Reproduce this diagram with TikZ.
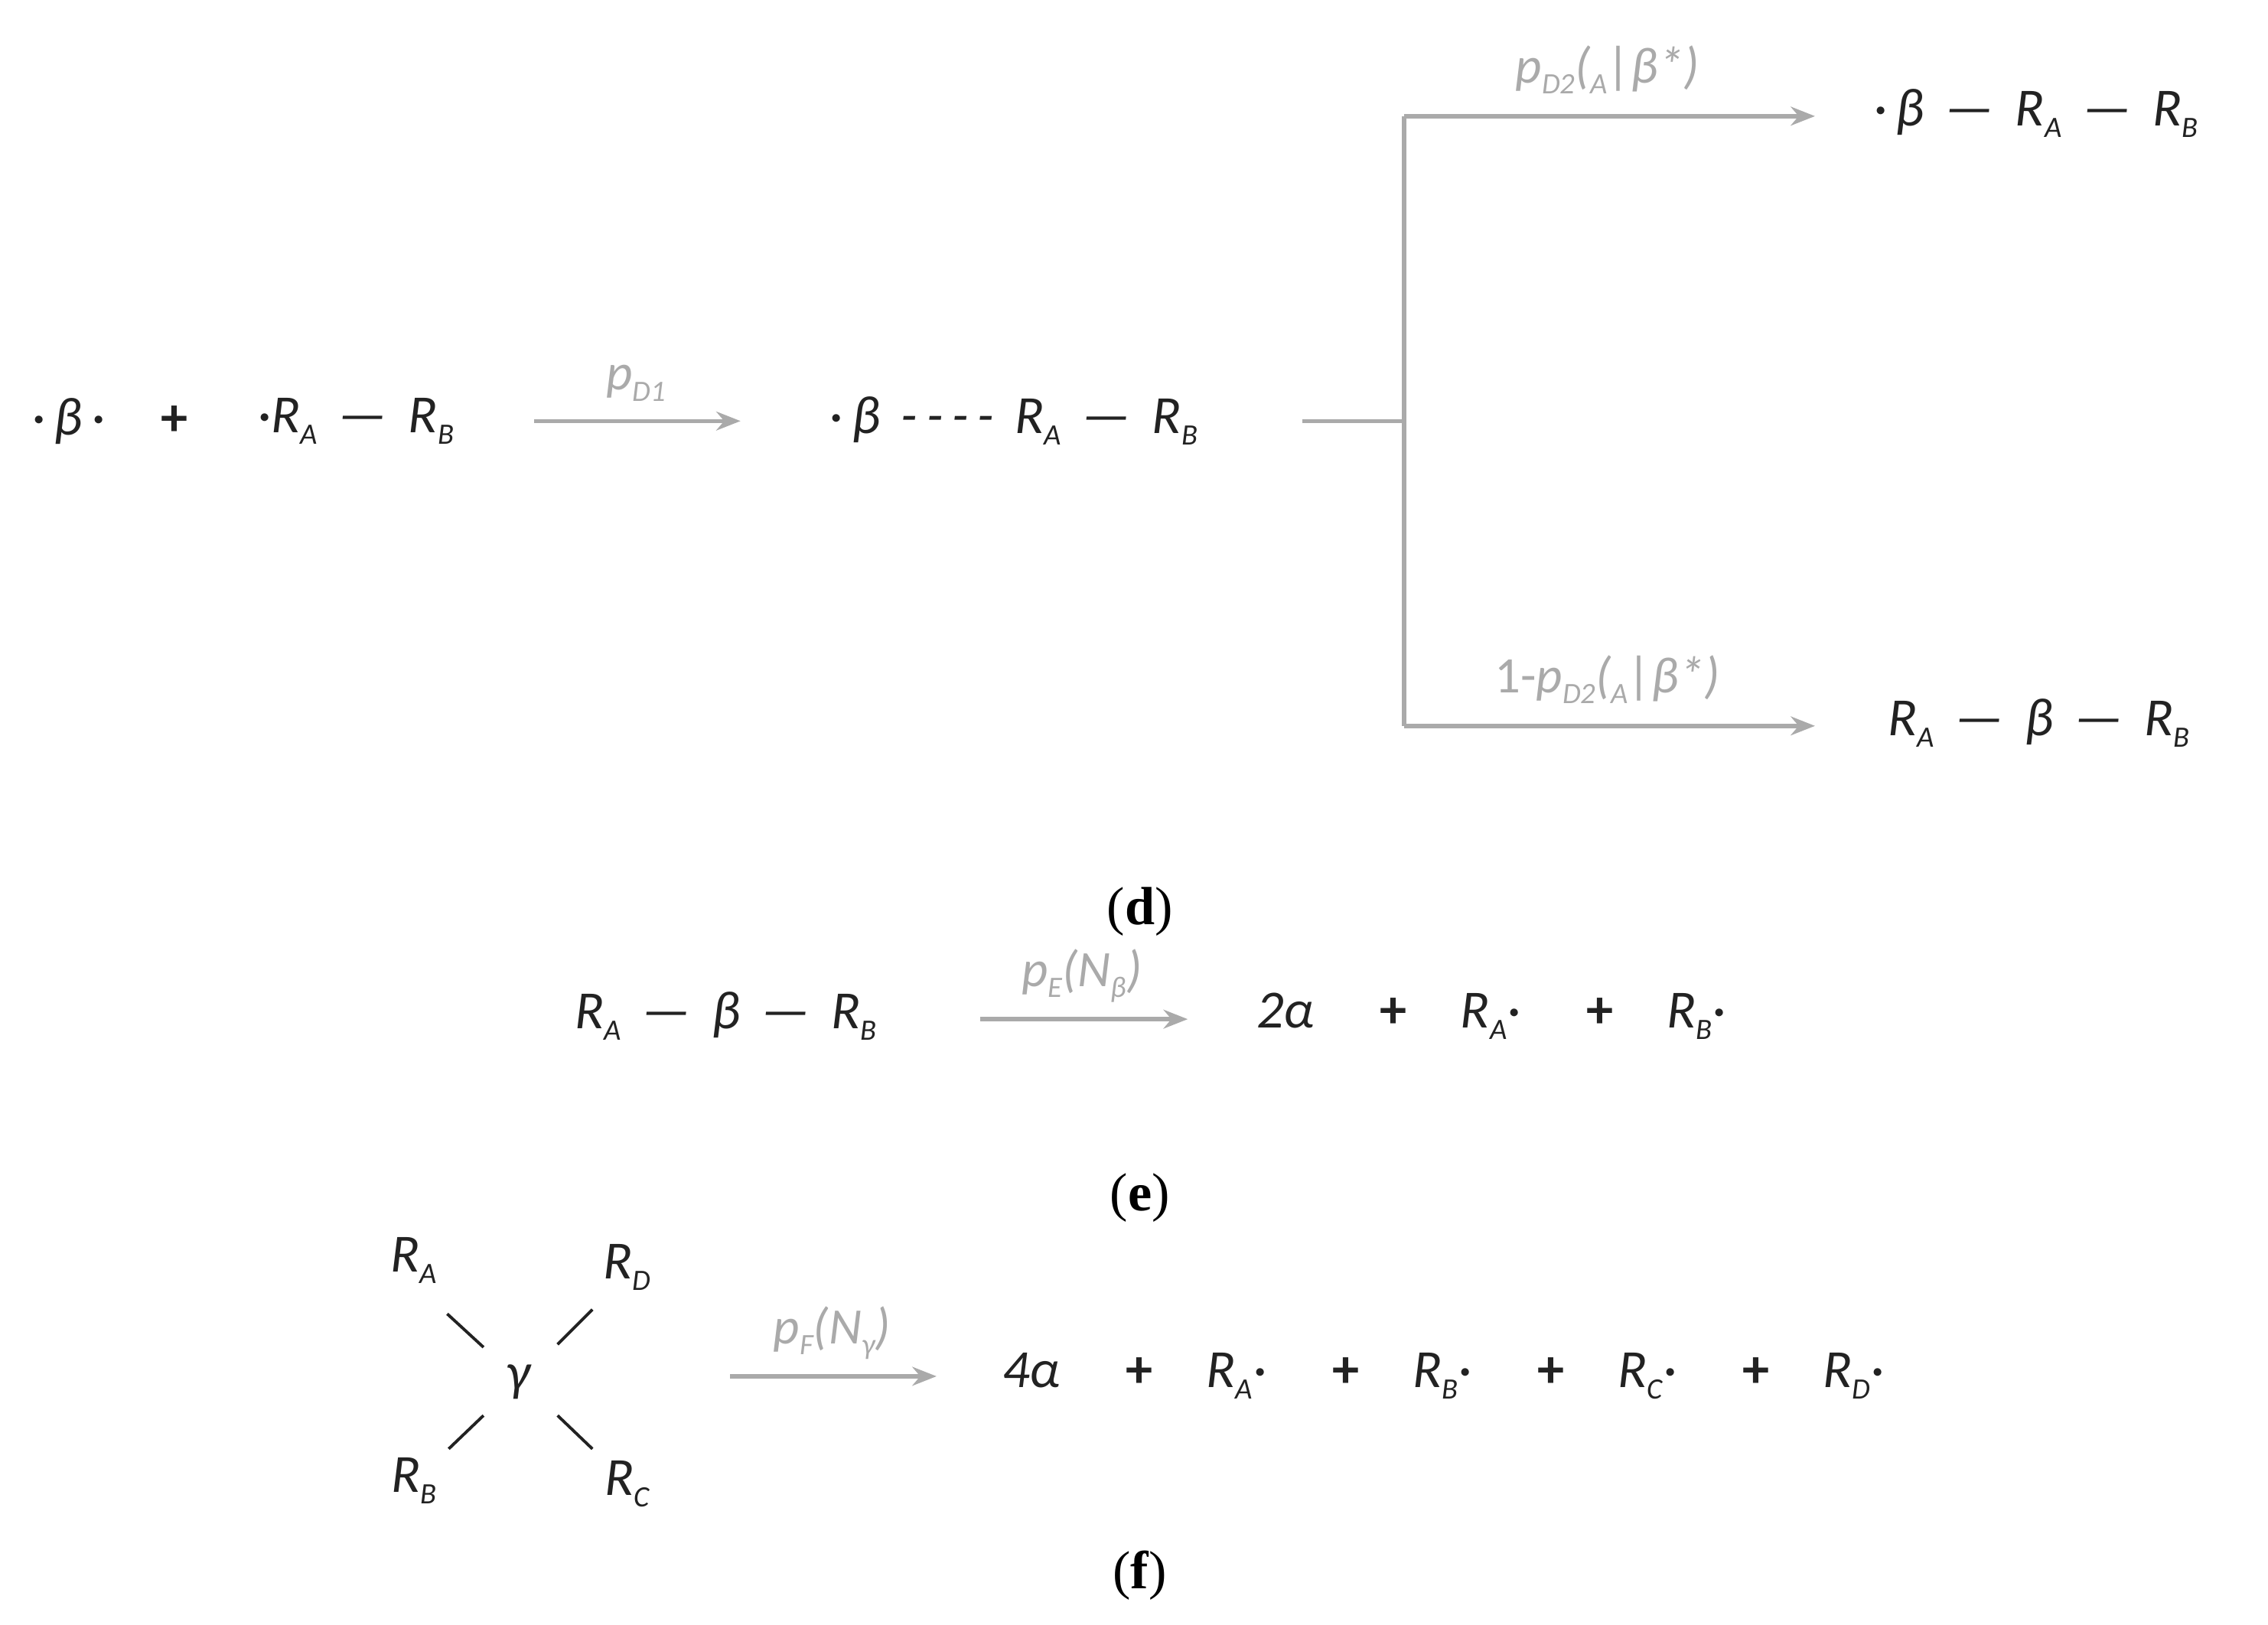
\documentclass[tikz,border=0pt]{standalone}
\usetikzlibrary{arrows.meta}
\usepackage{fontspec}
\setmainfont{Carlito}
\newfontfamily\serifb{Liberation Serif}
\newcommand{\lsub}[1]{\raisebox{-0.45ex}{\fontsize{11}{12}\selectfont #1}}
\definecolor{tx}{HTML}{222222}
\definecolor{ar}{HTML}{AAAAAA}
\begin{document}
\begin{tikzpicture}[x=0.018976cm,y=-0.018976cm,
  t/.style={inner sep=0pt,text=tx,font=\fontsize{20}{24}\selectfont\itshape},
  lab/.style={inner sep=0pt,text=ar,font=\fontsize{19}{23}\selectfont\itshape},
  figcap/.style={inner sep=0pt,text=black,font=\serifb\fontsize{20}{24}\selectfont},
  arr/.style={draw=ar,line width=1.6pt,-{Stealth[length=9pt,width=7pt]}},
  ln/.style={draw=ar,line width=1.6pt},
  bd/.style={draw=tx,line width=1.1pt}]
\useasboundingbox (0,0) rectangle (1562,1119);
% row d
\node[t] (d1) at (47,290) {·\,β\,·};
\node[t] (d2) at (120,290) {\upshape\bfseries +};
\node[t] (d3) at (245,290) {·R\lsub{A} \,—\, R\lsub{B}};
\coordinate (a1s) at (368,290); \coordinate (a1e) at (510,290);
\draw[arr] (a1s) -- (a1e);
\node[lab] at (438,264) {p\lsub{D1}};
\node[t] (d4) at (698,290) {·\,β \,-\,-\,-\,- \,R\lsub{A} \,—\, R\lsub{B}};
\coordinate (b0) at (897,290); \coordinate (b1) at (967,290);
\coordinate (bt) at (967,80); \coordinate (bb) at (967,500);
\coordinate (et) at (1250,80); \coordinate (eb) at (1250,500);
\draw[ln] (b0) -- (b1) (bt) -- (bb);
\draw[arr] (bt) -- (et);
\draw[arr] (bb) -- (eb);
\node[lab] at (1107,48) {p\lsub{D2}(\lsub{A}|β*)};
\node[lab] at (1107,468) {\upshape 1-\itshape p\lsub{D2}(\lsub{A}|β*)};
\node[t,anchor=west] (p1) at (1290,78) {·\,β \,—\, R\lsub{A} \,—\, R\lsub{B}};
\node[t,anchor=west] (p2) at (1300,498) {R\lsub{A} \,—\, β \,—\, R\lsub{B}};
\node[figcap] at (785,628) {(\textbf{d})};
% row e
\node[t] (e1) at (500,700) {R\lsub{A} \,—\, β \,—\, R\lsub{B}};
\coordinate (a2s) at (675,702); \coordinate (a2e) at (818,702);
\draw[arr] (a2s) -- (a2e);
\node[lab] at (745,672) {p\lsub{E}(N\lsub{β})};
\node[t,anchor=west] (e2) at (865,700) {2α \quad\upshape\bfseries +\quad \itshape\mdseries R\lsub{A}· \quad\upshape\bfseries +\quad \itshape\mdseries R\lsub{B}·};
\node[figcap] at (785,825) {(\textbf{e})};
% row f
\node[t] (ra) at (285,868) {R\lsub{A}};
\node[t] (rd) at (432,873) {R\lsub{D}};
\node[t] (g) at (357,952) {γ};
\node[t] (rb) at (285,1020) {R\lsub{B}};
\node[t] (rc) at (432,1022) {R\lsub{C}};
\draw[bd] (308,905) -- (333,928);
\draw[bd] (408,902) -- (384,926);
\draw[bd] (333,975) -- (309,998);
\draw[bd] (384,975) -- (408,998);
\coordinate (a3s) at (503,948); \coordinate (a3e) at (645,948);
\draw[arr] (a3s) -- (a3e);
\node[lab] at (573,918) {p\lsub{F}(N\lsub{γ})};
\node[t,anchor=west] (f2) at (690,948) {4α \quad\upshape\bfseries +\quad \itshape\mdseries R\lsub{A}· \quad\upshape\bfseries +\quad \itshape\mdseries R\lsub{B}· \quad\upshape\bfseries +\quad \itshape\mdseries R\lsub{C}· \quad\upshape\bfseries +\quad \itshape\mdseries R\lsub{D}·};
\node[figcap] at (785,1085) {(\textbf{f})};
\end{tikzpicture}
\end{document}
